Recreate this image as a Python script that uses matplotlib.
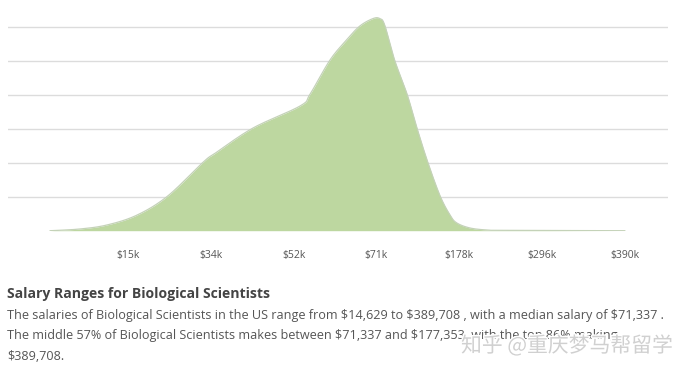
import numpy as np
import matplotlib.pyplot as plt
import matplotlib.patheffects as pe

plt.rcParams['text.parse_math'] = False

# tick labels (evenly spaced salary markers)
tick_labels = ['$15k', '$34k', '$52k', '$71k', '$178k', '$296k', '$390k']

# curve: position in tick units, height in grid units
curve_x = [-0.94, -0.58, -0.25, 0.11, 0.48, 0.91, 1.06, 1.51, 2.08, 2.20,
           2.44, 2.64, 2.80, 2.96, 3.04, 3.10, 3.22, 3.37, 3.49, 3.62,
           3.77, 3.89, 3.97, 4.13, 4.34, 4.58, 6.00]
curve_y = [0.0, 0.05, 0.17, 0.46, 1.02, 2.02, 2.29, 3.02, 3.67, 4.02,
           5.02, 5.61, 6.02, 6.24, 6.24, 6.05, 5.02, 4.02, 3.02, 2.02,
           1.02, 0.46, 0.23, 0.08, 0.02, 0.01, 0.0]

title = 'Salary Ranges for Biological Scientists'
body = ['The salaries of Biological Scientists in the US range from $14,629 to $389,708 , with a median salary of $71,337 .',
        'The middle 57% of Biological Scientists makes between $71,337 and $177,353, with the top 86% making',
        '$389,708.']


def smooth(xs, ys, n=20):
    # catmull-rom through the read points
    p = np.column_stack([xs, ys])
    p = np.vstack([p[0], p, p[-1]])
    out = []
    t = np.linspace(0, 1, n, endpoint=False)[:, None]
    for i in range(1, len(p) - 2):
        p0, p1, p2, p3 = p[i - 1], p[i], p[i + 1], p[i + 2]
        seg = 0.5 * ((2 * p1) + (-p0 + p2) * t + (2 * p0 - 5 * p1 + 4 * p2 - p3) * t ** 2
                     + (-p0 + 3 * p1 - 3 * p2 + p3) * t ** 3)
        out.append(seg)
    out.append(p[-2][None, :])
    out = np.vstack(out)
    return out[:, 0], np.clip(out[:, 1], 0, None)


fig = plt.figure(figsize=(6.83, 3.73), dpi=100)
ax = fig.add_axes([8 / 683, 1 - 230.7 / 373, 660 / 683, 230.7 / 373])

sx, sy = smooth(curve_x, curve_y)
ax.fill_between(sx, 0, sy, color='#bdd7a0', lw=0, zorder=2)
ax.plot(sx, sy, color='#c4d2b8', lw=0.9, zorder=3)

for g in range(1, 7):
    ax.axhline(g, color='#dcdcdc', lw=1, zorder=1)

ax.set_xlim(-1.449, 6.522)
ax.set_ylim(0, 230.7 / 34)
for s in ax.spines.values():
    s.set_visible(False)
ax.set_yticks([])
ax.set_xticks(range(len(tick_labels)))
ax.set_xticklabels(tick_labels, fontsize=7.5, color='#555555', family='Open Sans')
ax.tick_params(axis='x', length=0, pad=14)

fig.text(7 / 683, 1 - 294 / 373, title, fontsize=10.1, fontweight='bold',
         color='#444444', family='Open Sans', va='center')
for i, line in enumerate(body):
    fig.text(7 / 683, 1 - (316 + 20 * i) / 373, line, fontsize=9.1,
             color='#555555', family='Open Sans', va='center')

fig.text(461 / 683, 1 - 346 / 373, '知乎 @重庆梦马帮留学', fontsize=15,
         color='#d0d0d0', family=['Noto Sans CJK SC', 'DejaVu Sans'], va='center',
         path_effects=[pe.withStroke(linewidth=2, foreground='white')])

fig.savefig('out.png', dpi=100)
